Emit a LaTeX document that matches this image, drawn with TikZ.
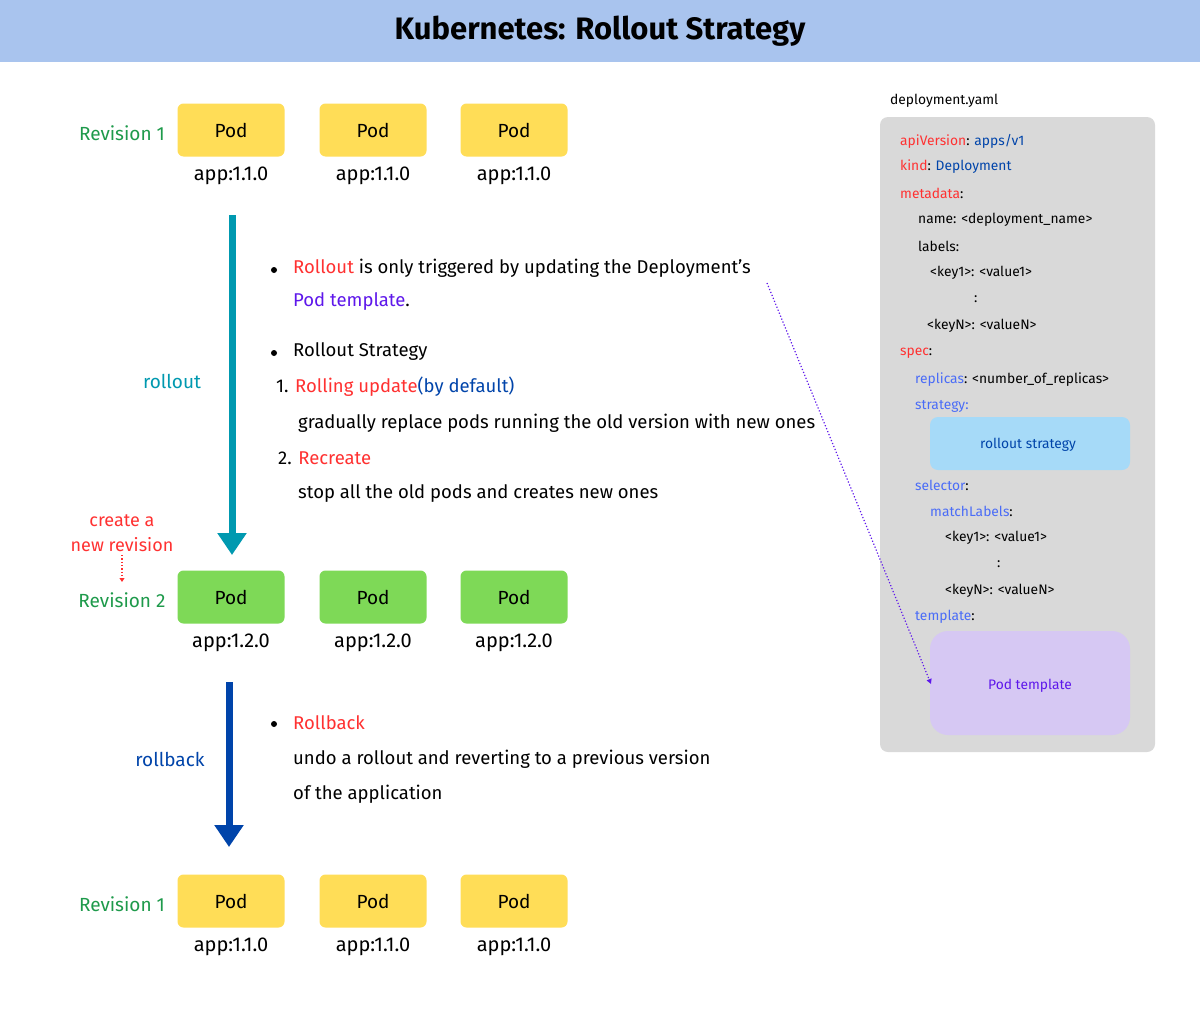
\documentclass[tikz,border=0pt]{standalone}
\usepackage{fontspec}
\setmainfont{Fira Sans}
\usetikzlibrary{arrows.meta}
\definecolor{titlebg}{HTML}{A9C4EE}
\definecolor{podY}{HTML}{FFDD57}
\definecolor{podG}{HTML}{7ED957}
\definecolor{revG}{HTML}{1E9A4B}
\definecolor{teal}{HTML}{0099B0}
\definecolor{dblue}{HTML}{0044AA}
\definecolor{kred}{HTML}{FF3131}
\definecolor{kpurple}{HTML}{5E17EB}
\definecolor{lblue}{HTML}{4A6CF7}
\definecolor{panel}{HTML}{D9D9D9}
\definecolor{stratbox}{HTML}{A6DAF8}
\definecolor{tmplbox}{HTML}{D6C8F3}
\begin{document}
\begin{tikzpicture}[x=1pt,y=-1pt,
  pod/.style={rounded corners=6pt,minimum width=107pt,minimum height=53pt,inner sep=0,font=\fontsize{19}{20}\selectfont},
  applbl/.style={font=\fontsize{20}{21}\selectfont},
  rev/.style={text=revG,font=\fontsize{19}{20}\selectfont},
  txt/.style={anchor=west,font=\fontsize{18.5}{20}\selectfont,inner sep=0},
  yml/.style={anchor=west,font=\fontsize{13.8}{16}\selectfont,inner sep=0},
  bul/.style={circle,fill=black,inner sep=0,minimum size=6pt}]
\useasboundingbox (0,0) rectangle (1200,1028);
\fill[white] (0,0) rectangle (1200,1028);
\fill[titlebg] (0,0) rectangle (1200,62);
\node[font=\fontsize{31}{32}\selectfont\bfseries] (title) at (600,31) {Kubernetes: Rollout Strategy};
% rows
\foreach \r/\y/\c/\v/\lab in {1/130/podY/1.1.0/Revision 1, 2/597/podG/1.2.0/Revision 2, 3/901/podY/1.1.0/Revision 1}{
  \node[rev] (rev\r) at (122,\y+3) {\lab};
  \foreach \i/\x in {1/231,2/373,3/514}{
    \node[pod,fill=\c] (p\r\i) at (\x,\y) {Pod};
    \node[applbl] (a\r\i) at (\x,\y+46) {app:\v};
  }
}
% arrows
\coordinate (r1s) at (232,215); \coordinate (r1e) at (232,555);
\draw[teal,line width=7pt,-{Triangle[length=22pt,width=28pt]}] (r1s) -- (r1e);
\node[text=teal,font=\fontsize{19}{20}\selectfont] (rolloutlbl) at (172,381) {rollout};
\coordinate (r2s) at (229,682); \coordinate (r2e) at (229,847);
\draw[dblue,line width=7pt,-{Triangle[length=22pt,width=28pt]}] (r2s) -- (r2e);
\node[text=dblue,font=\fontsize{19}{20}\selectfont] (rollbacklbl) at (170,759) {rollback};
\node[text=kred,font=\fontsize{18}{25}\selectfont,align=center] (cnr) at (122,533) {create a\\new revision};
\draw[kred,dotted,line width=1.3pt,-{Triangle[length=4pt,width=5pt]}] (cnr.south) -- (122,582);
% bullets
\node[bul] (b1) at (274,270) {};
\node[txt] (t1) at (293,268) {\textcolor{kred}{Rollout} is only triggered by updating the Deployment's};
\node[txt] (t2) at (293,302) {\textcolor{kpurple}{Pod template}.};
\node[bul] (b2) at (274,353) {};
\node[txt] (t3) at (293,352) {Rollout Strategy};
\node[txt] (t4) at (276,387) {1. \textcolor{kred}{Rolling update}\textcolor{dblue}{(by default)}};
\node[txt] (t5) at (298,423) {gradually replace pods running the old version with new ones};
\node[txt] (t6) at (278,458) {2. \textcolor{kred}{Recreate}};
\node[txt] (t7) at (298,494) {stop all the old pods and creates new ones};
\node[bul] (b3) at (274,724) {};
\node[txt] (t8) at (293,723) {\textcolor{kred}{Rollback}};
\node[txt] (t9) at (293,759) {undo a rollout and reverting to a previous version};
\node[txt] (t10) at (293,794) {of the application};
% yaml panel
\node[yml] (fname) at (890,101) {deployment.yaml};
\fill[panel,rounded corners=8pt] (880,117) rectangle (1155,752);
\node[yml] (y1) at (900,141) {\textcolor{kred}{apiVersion}: \textcolor{dblue}{apps/v1}};
\node[yml] (y2) at (900,167) {\textcolor{kred}{kind}: \textcolor{dblue}{Deployment}};
\node[yml] (y3) at (900,193) {\textcolor{kred}{metadata}:};
\node[yml] (y4) at (918,220) {name: <deployment\_name>};
\node[yml] (y5) at (918,246) {labels:};
\node[yml] (y6) at (930,273) {<key1>: <value1>};
\node[yml] (y7) at (974,299) {:};
\node[yml] (y8) at (927,326) {<keyN>: <valueN>};
\node[yml] (y9) at (900,353) {\textcolor{kred}{spec}:};
\node[yml] (y10) at (915,380) {\textcolor{lblue}{replicas}: <number\_of\_replicas>};
\node[yml] (y11) at (915,406) {\textcolor{lblue}{strategy:}};
\fill[stratbox,rounded corners=8pt] (930,417) rectangle (1130,470);
\node[yml,anchor=center,text=dblue] (strat) at (1028,445) {rollout strategy};
\node[yml] (y12) at (915,485) {\textcolor{lblue}{selector}:};
\node[yml] (y13) at (930,511) {\textcolor{lblue}{matchLabels}:};
\node[yml] (y14) at (945,538) {<key1>: <value1>};
\node[yml] (y15) at (997,564) {:};
\node[yml] (y16) at (945,591) {<keyN>: <valueN>};
\node[yml] (y17) at (915,617) {\textcolor{lblue}{template}:};
\fill[tmplbox,rounded corners=18pt] (930,631) rectangle (1130,735);
\node[yml,anchor=center,text=kpurple] (tmpl) at (1030,686) {Pod template};
\coordinate (ds) at (767,283); \coordinate (de) at (931,684);
\draw[kpurple,dotted,line width=1.2pt,-{Triangle[length=5pt,width=5pt]}] (ds) -- (de);
\end{tikzpicture}
\end{document}
